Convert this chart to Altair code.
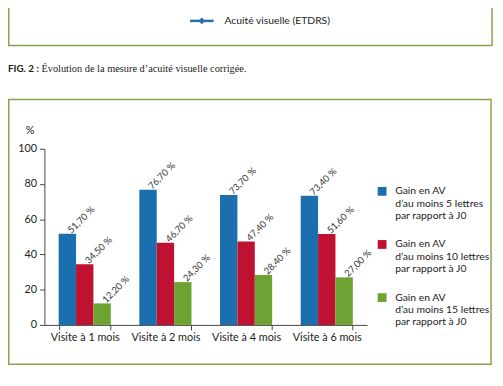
import altair as alt
import pandas as pd

visits = ["Visite à 1 mois", "Visite à 2 mois", "Visite à 4 mois", "Visite à 6 mois"]
series = [
    "Gain en AV|d’au moins 5 lettres|par rapport à J0",
    "Gain en AV|d’au moins 10 lettres|par rapport à J0",
    "Gain en AV|d’au moins 15 lettres|par rapport à J0",
]
gain5 = [51.7, 76.7, 73.7, 73.4]
gain10 = [34.5, 46.7, 47.4, 51.6]
gain15 = [12.2, 24.3, 28.4, 27.0]
colors = ["#1c6fae", "#bf1131", "#6ca333"]
y_ticks = [0, 20, 40, 60, 80, 100]

rows = []
for s, vals in zip(series, [gain5, gain10, gain15]):
    for v, val in zip(visits, vals):
        rows.append({"visit": v, "series": s, "value": val,
                     "label": f"{val:.2f}".replace(".", ",") + " %"})
df = pd.DataFrame(rows)
dummy = pd.DataFrame({"a": [0]})

FONT = "Lato"
GREEN_BORDER = "#86a34c"

x_enc = alt.X("visit:N", sort=visits, title=None,
              scale=alt.Scale(paddingInner=0.354, paddingOuter=0.177),
              axis=alt.Axis(labelAngle=0, tickBand="extent", tickSize=5,
                            domainColor="#444", tickColor="#444",
                            labelFontSize=11, labelColor="#222", labelFont=FONT,
                            labelPadding=2))
y_enc = alt.Y("value:Q", scale=alt.Scale(domain=[0, 100]),
              axis=alt.Axis(values=y_ticks, tickCount=6, grid=False, tickSize=5,
                            labelOverlap=False,
                            domainColor="#444", tickColor="#444",
                            labelFontSize=11, labelColor="#222", labelFont=FONT,
                            labelPadding=3, title="%", titleAngle=0,
                            titleX=-15, titleY=-19, titleAlign="center",
                            titleBaseline="middle", titleFont=FONT,
                            titleFontSize=11, titleFontWeight="normal",
                            titleColor="#222"))
xoff = alt.XOffset("series:N", sort=series)

bars = alt.Chart(df).mark_bar().encode(
    x=x_enc, y=y_enc, xOffset=xoff,
    color=alt.Color("series:N", sort=series,
                    scale=alt.Scale(domain=series, range=colors),
                    legend=alt.Legend(title=None, orient="none", legendX=338, legendY=38,
                                      symbolType="square", symbolSize=80,
                                      symbolStrokeWidth=0, labelFontSize=10.5,
                                      labelFont=FONT, labelColor="#222",
                                      labelExpr="split(datum.label, '|')",
                                      labelLimit=0, padding=0, rowPadding=18,
                                      labelOffset=8)),
)

labels = alt.Chart(df).mark_text(angle=315, align="left", baseline="middle", dx=3,
                                 fontSize=9.5, font=FONT, color="#333").encode(
    x=x_enc, y=y_enc, xOffset=xoff, text="label:N"
)

box_top = alt.Chart(dummy).mark_rect(fillOpacity=0, stroke=GREEN_BORDER, strokeWidth=1.5).encode(
    x=alt.value(-36.25), x2=alt.value(455), y=alt.value(-160), y2=alt.value(-105))
box_main = alt.Chart(dummy).mark_rect(fillOpacity=0, stroke=GREEN_BORDER, strokeWidth=1.5).encode(
    x=alt.value(-36.25), x2=alt.value(454), y=alt.value(-50), y2=alt.value(219))

leg_line = alt.Chart(dummy).mark_rule(color="#2a6fb0", strokeWidth=2.5).encode(
    x=alt.value(148), x2=alt.value(172), y=alt.value(-130))
leg_pt = alt.Chart(dummy).mark_point(shape="diamond", filled=True, color="#2a6fb0",
                                     size=45, opacity=1).encode(
    x=alt.value(160), y=alt.value(-130))
leg_txt = alt.Chart(dummy).mark_text(align="left", baseline="middle", fontSize=10.5,
                                     font=FONT, color="#222").encode(
    x=alt.value(183), y=alt.value(-130), text=alt.value("Acuité visuelle (ETDRS)"))

cap_bold = alt.Chart(dummy).mark_text(align="left", baseline="middle", fontSize=10,
                                      font=FONT, fontWeight="bold", color="#222").encode(
    x=alt.value(-37), y=alt.value(-81), text=alt.value("FIG. 2 :"))
cap_txt = alt.Chart(dummy).mark_text(align="left", baseline="middle", fontSize=10.5,
                                     font="Liberation Serif", color="#222").encode(
    x=alt.value(-3), y=alt.value(-81),
    text=alt.value("Évolution de la mesure d’acuité visuelle corrigée."))

chart = alt.layer(
    box_top, box_main, leg_line, leg_pt, leg_txt, cap_bold, cap_txt, bars, labels
).properties(
    width=328, height=179,
    padding={"left": 37, "top": 140, "right": 130, "bottom": 59},
    autosize=alt.AutoSizeParams(type="none"),
    background="white",
).configure_view(stroke=None).configure_axis(labelOverlap=False)

chart.save("out.html", embed_options={"renderer": "svg", "actions": False})
